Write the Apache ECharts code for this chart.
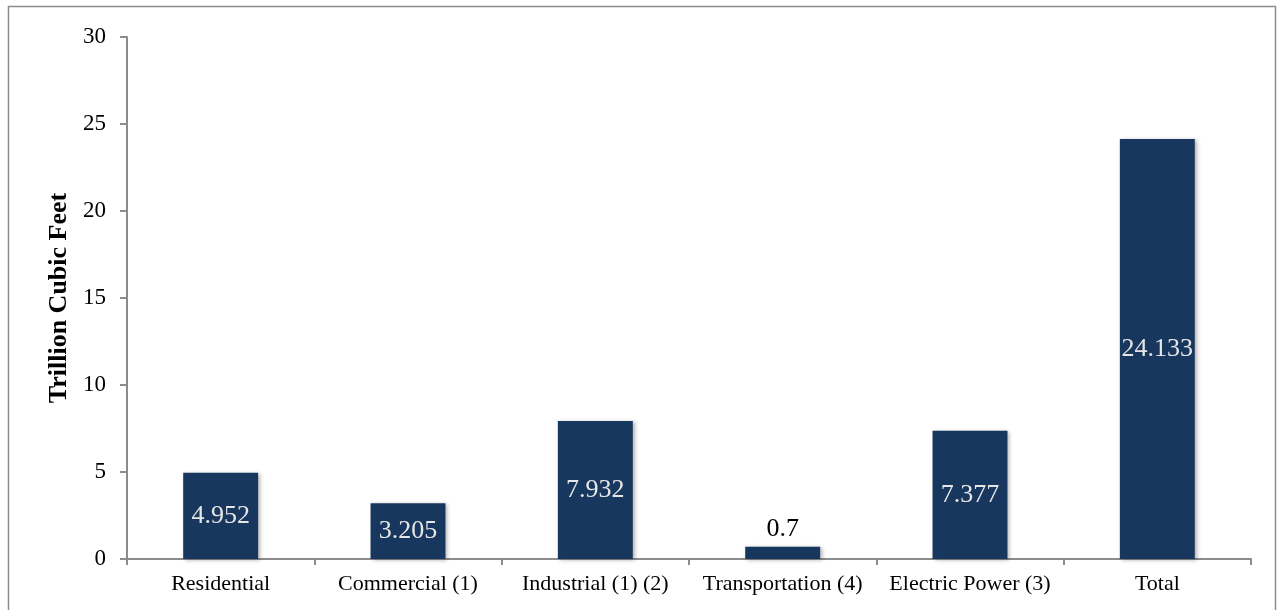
<!DOCTYPE html>
<html>
<head>
<meta charset="utf-8">
<script src="https://cdn.jsdelivr.net/npm/echarts@6/dist/echarts.min.js"></script>
<style>
html,body{margin:0;padding:0;background:#fff;}
#chart{width:1280px;height:610px;}
</style>
</head>
<body>
<div id="chart"></div>
<script>
const categories = ['Residential', 'Commercial (1)', 'Industrial (1) (2)', 'Transportation (4)', 'Electric Power (3)', 'Total'];
const values = [4.952, 3.205, 7.932, 0.7, 7.377, 24.133];
const yTicks = { min: 0, max: 30, interval: 5 };
const yName = 'Trillion Cubic Feet';

const font = 'Liberation Serif, Times New Roman, serif';
const chart = echarts.init(document.getElementById('chart'), null, { renderer: 'canvas' });
chart.setOption({
  animation: false,
  backgroundColor: '#ffffff',
  graphic: [{
    type: 'rect',
    shape: { x: 8.5, y: 6.5, width: 1267, height: 640 },
    style: { fill: 'none', stroke: '#8c8c8c', lineWidth: 1.5 },
    silent: true
  }],
  grid: { left: 127, right: 29, top: 37, bottom: 51 },
  xAxis: {
    type: 'category',
    data: categories,
    axisLine: { lineStyle: { color: '#8c8c8c', width: 2 } },
    axisTick: { show: true, alignWithLabel: false, length: 6, lineStyle: { color: '#8c8c8c', width: 2 } },
    axisLabel: { color: '#000', fontFamily: font, fontSize: 22, margin: 14, interval: 0, hideOverlap: false }
  },
  yAxis: {
    type: 'value',
    min: yTicks.min, max: yTicks.max, interval: yTicks.interval,
    name: yName,
    nameLocation: 'middle',
    nameGap: 55,
    nameTextStyle: { color: '#000', fontFamily: font, fontSize: 26, fontWeight: 'bold' },
    splitLine: { show: false },
    axisLine: { show: true, lineStyle: { color: '#8c8c8c', width: 2 } },
    axisTick: { show: true, length: 7, lineStyle: { color: '#8c8c8c', width: 2 } },
    axisLabel: { color: '#000', fontFamily: font, fontSize: 23, margin: 21 }
  },
  series: [{
    type: 'bar',
    data: values.map(v => ({
      value: v,
      label: v < 2 ? { position: 'top', color: '#000' } : { position: 'inside', color: '#e6e6e6' }
    })),
    barWidth: '40%',
    itemStyle: { color: '#17375e', shadowColor: 'rgba(0,0,0,0.3)', shadowBlur: 4, shadowOffsetX: 2, shadowOffsetY: 1 },
    label: { show: true, fontFamily: font, fontSize: 26, formatter: p => String(p.value) }
  }]
});
</script>
</body>
</html>
